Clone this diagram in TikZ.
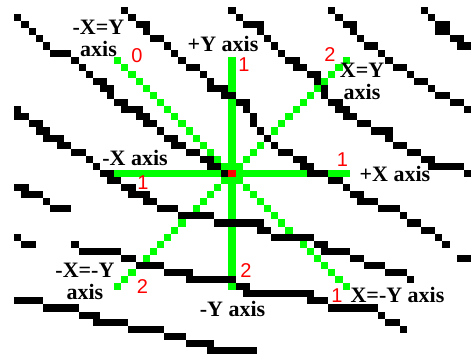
\documentclass[tikz,border=0pt]{standalone}
\usepackage{fontspec}
\setmainfont{Liberation Serif}
\newfontfamily\numfont{Liberation Sans}
\definecolor{axisgreen}{RGB}{0,255,0}
\definecolor{octred}{RGB}{255,0,0}
\tikzset{
    pix/.style={fill=black},
    axispix/.style={fill=axisgreen},
    lbl/.style={font=\fontsize{22}{22}\selectfont\bfseries, inner sep=0pt, align=center},
    oct/.style={font=\numfont\fontsize{20}{20}\selectfont, text=octred, inner sep=0pt},
}
\begin{document}
\begin{tikzpicture}[x=7.136pt, y=-7.08pt]
    \useasboundingbox (0,0) rectangle (66,50);
    \clip (0,0) rectangle (66,50);

    % Draw the green axes
    \fill[axispix] (16,24) rectangle (49,25);
    \fill[axispix] (32,8) rectangle (33,41);
    % Draw the diagonals, one pixel at a time
    \foreach \k in {1,...,16}{
        \fill[axispix] (32+\k,24-\k) rectangle ++(1,1);
        \fill[axispix] (32-\k,24-\k) rectangle ++(1,1);
        \fill[axispix] (32+\k,24+\k) rectangle ++(1,1);
        \fill[axispix] (32-\k,24+\k) rectangle ++(1,1);
    }

    % Draw the black lines as runs row/first/last
    \foreach \r/\a/\b in {
        2/2/2, 3/3/3, 4/4/4, 5/5/5, 6/6/6, 7/7/9, 8/10/10, 9/11/11, 10/12/12,
        11/13/14, 12/14/15, 13/15/15, 14/16/17, 15/17/19, 16/19/20, 17/20/21,
        18/22/22, 19/23/24, 20/24/25, 21/26/27, 22/28/29, 23/29/30, 24/31/31,
        1/17/17, 2/18/18, 3/19/20, 4/20/20, 5/21/22, 6/23/23, 7/24/24, 8/25/25,
        9/26/27, 10/28/28, 11/29/29, 12/29/31, 13/31/32, 14/33/34, 15/34/34,
        16/35/35, 17/35/35, 18/36/36, 19/37/37, 20/38/38, 21/39/40, 22/41/42,
        23/42/43, 24/43/45, 25/46/47, 26/48/48, 27/49/50, 28/50/52, 29/53/55,
        30/56/56, 31/57/58, 32/59/60, 33/61/61, 34/62/62, 36/64/65,
        1/32/32, 2/33/33, 3/34/36, 4/36/36, 5/37/37, 6/38/38, 7/39/39, 8/40/41,
        9/41/42, 10/43/44, 11/44/44, 12/45/45, 13/45/45, 14/46/47, 15/47/48,
        16/48/49, 17/50/51, 18/52/54, 19/54/54, 20/55/56, 21/57/58, 22/59/60,
        23/60/64, 24/65/65,
        1/46/46, 2/47/47, 3/48/49, 4/49/49, 5/50/50, 6/51/52, 7/53/53, 8/54/54,
        9/55/56, 10/57/57, 11/58/59, 12/60/60, 13/61/62, 14/63/64, 15/65/65,
        1/59/59, 2/60/60, 3/61/62, 4/61/62, 5/63/64, 6/64/65,
        15/2/2, 16/2/3, 17/4/5, 18/5/6, 19/6/8, 20/8/9, 21/10/11, 22/12/12,
        23/13/13, 24/14/15, 25/15/16, 26/17/18, 27/18/20, 28/20/21, 29/22/24,
        30/25/29, 31/30/36, 32/36/37, 33/38/43, 34/44/45, 35/45/48, 36/49/50,
        37/51/53, 38/54/56, 39/57/57,
        26/2/3, 27/3/5, 28/6/6, 29/7/9,
        33/2/2, 34/3/4, 34/10/10, 35/11/16, 36/17/18, 37/19/22, 38/23/26,
        39/26/32, 40/33/34, 41/34/43, 42/43/45, 43/46/52, 44/53/53, 45/54/55,
        46/56/56,
        42/2/5, 43/6/10, 44/11/13, 45/13/17, 46/18/22, 47/23/25, 48/26/29,
        49/29/35}
        \fill[pix] (\a,\r) rectangle (\b+1,\r+1);

    % Mark the center pixel
    \fill[octred] (32,24) rectangle ++(1,1);

    % Place the axis names
    \node[lbl] (mxy) at (13.8,5.44) {-X=Y\\axis};
    \node[lbl] (py) at (31.25,6.21) {+Y axis};
    \node[lbl] (xy) at (50.73,11.44) {X=Y\\axis};
    \node[lbl] (mx) at (18.92,22.25) {-X axis};
    \node[lbl] (px) at (55.35,24.58) {+X axis};
    \node[lbl] (mxmy) at (11.9,39.77) {-X=-Y\\axis};
    \node[lbl] (my) at (32.58,43.64) {-Y axis};
    \node[lbl] (xmy) at (55.7,41.67) {X=-Y axis};

    % Add the octant numbers
    \node[oct] (o0) at (19.2,7.91) {0};
    \node[oct] (o1py) at (34.19,9.18) {1};
    \node[oct] (o2xy) at (46.24,7.77) {2};
    \node[oct] (o1px) at (48.0,22.53) {1};
    \node[oct] (o1mx) at (20.04,25.78) {1};
    \node[oct] (o2mxmy) at (19.97,40.47) {2};
    \node[oct] (o2my) at (34.47,38.14) {2};
    \node[oct] (o1xmy) at (47.23,41.74) {1};
\end{tikzpicture}
\end{document}
